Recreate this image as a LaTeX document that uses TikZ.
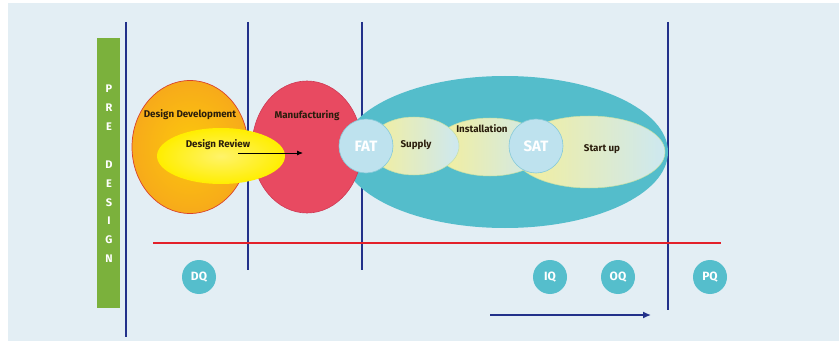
\documentclass[tikz,border=0pt]{standalone}
\usepackage{fontspec}
\setmainfont{Fira Sans}
\usetikzlibrary{shapes.geometric,arrows.meta}
\definecolor{bgblue}{HTML}{E3EEF4}
\definecolor{navy}{HTML}{22318A}
\definecolor{pgreen}{HTML}{7BB13C}
\definecolor{redline}{HTML}{E3202A}
\definecolor{teal}{HTML}{54BDCB}
\definecolor{qcol}{HTML}{55BECC}
\definecolor{testfill}{HTML}{BEE2EE}
\definecolor{testline}{HTML}{86CAD9}
\definecolor{manu}{HTML}{E84A61}
\definecolor{manuline}{HTML}{CF3A55}
\definecolor{orangeout}{HTML}{F7AA1A}
\definecolor{orangein}{HTML}{FCC80C}
\definecolor{orangeline}{HTML}{D9432B}
\definecolor{yelout}{HTML}{FFEE00}
\definecolor{yelin}{HTML}{FFF36A}
\definecolor{paley}{HTML}{F5EF98}
\definecolor{paleb}{HTML}{CDE8F1}
\definecolor{txt}{HTML}{2A1D0C}
\tikzset{
  blob/.style={ellipse, inner sep=0pt},
  vline/.style={navy, line width=1.6pt},
  qcirc/.style={circle, fill=qcol, minimum size=34pt, inner sep=0pt, text=white, font=\bfseries\fontsize{12}{12}\selectfont},
  testc/.style={circle, fill=testfill, draw=testline, line width=0.6pt, minimum size=54pt, inner sep=0pt, text=white, font=\bfseries\fontsize{15}{15}\selectfont},
  lbl/.style={text=txt, inner sep=0pt, font=\bfseries\fontsize{9.8}{10}\selectfont},
  pd/.style={text=white, inner sep=0pt, font=\bfseries\fontsize{11}{11}\selectfont},
  softgrad/.style={left color=paley, right color=paleb, draw=paley!70!teal, line width=0.5pt}
}
\begin{document}
\begin{tikzpicture}[x=1pt,y=-1pt]
\useasboundingbox (0,0) rectangle (839,345);
\fill[white] (0,0) rectangle (839,345);
\fill[bgblue] (8,3) rectangle (839,341);
% green pre-design bar
\fill[pgreen] (97,38) rectangle (120,308);
\foreach \ch/\yy [count=\i] in {P/89,R/108,E/127,D/165,E/184,S/203,I/221,G/240,N/259}
  \node[pd] (pd\i) at (109,\yy) {\ch};
% vertical phase lines
\coordinate (l1t) at (126,22); \coordinate (l1b) at (126,337);
\coordinate (l2t) at (248,22); \coordinate (l2b) at (248,270);
\coordinate (l3t) at (362,22); \coordinate (l3b) at (362,270);
\coordinate (l4t) at (668,22); \coordinate (l4b) at (668,310);
\draw[vline] (l1t) -- (l1b);
\draw[vline] (l2t) -- (l2b);
\draw[vline] (l3t) -- (l3b);
\draw[vline] (l4t) -- (l4b);
% red timeline
\coordinate (rl) at (153,243); \coordinate (rr) at (721,243);
\draw[redline, line width=1.8pt] (rl) -- (rr);
% big teal ellipse
\node[blob, fill=teal, minimum width=326pt, minimum height=152pt] (big) at (505,152) {};
% manufacturing
\node[blob, fill=manu, draw=manuline, line width=0.6pt, minimum width=110pt, minimum height=132pt] (manu) at (307,147) {};
% design development
\node[blob, inner color=orangein, outer color=orangeout, draw=orangeline, line width=0.7pt, minimum width=116pt, minimum height=133pt] (dd) at (190,147) {};
% design review
\node[blob, inner color=yelin, outer color=yelout, minimum width=128pt, minimum height=56pt] (dr) at (221,156) {};
% sub ellipses
\node[blob, softgrad, minimum width=112pt, minimum height=58pt] (inst) at (490,147) {};
\node[blob, softgrad, minimum width=90pt, minimum height=58pt] (sup) at (414,146) {};
\node[blob, softgrad, minimum width=152pt, minimum height=72pt] (stu) at (589,152) {};
\node[testc] (sat) at (536,146) {SAT};
\node[testc] (fat) at (366,146) {FAT};
% labels
\node[lbl] (tdd) at (190,115) {Design Development};
\node[lbl] (tdr) at (218,145) {Design Review};
\coordinate (arrs) at (238,153); \coordinate (arre) at (303,153);
\draw[black, line width=0.8pt, -{Latex[length=6pt,width=5pt]}] (arrs) -- (arre);
\node[lbl] (tmanu) at (307,116) {Manufacturing};
\node[lbl] (tsup) at (416,145) {Supply};
\node[lbl] (tinst) at (482,129) {Installation};
\node[lbl] (tstu) at (602,149) {Start up};
% qualification circles
\node[qcirc] (dq) at (199,277) {DQ};
\node[qcirc] (iq) at (550,277) {IQ};
\node[qcirc] (oq) at (618,277) {OQ};
\node[qcirc] (pq) at (710,277) {PQ};
% bottom arrow
\coordinate (ba) at (490,315); \coordinate (bb) at (651,315);
\draw[navy, line width=1.4pt, -{Latex[length=8pt,width=7pt]}] (ba) -- (bb);
\end{tikzpicture}
\end{document}
